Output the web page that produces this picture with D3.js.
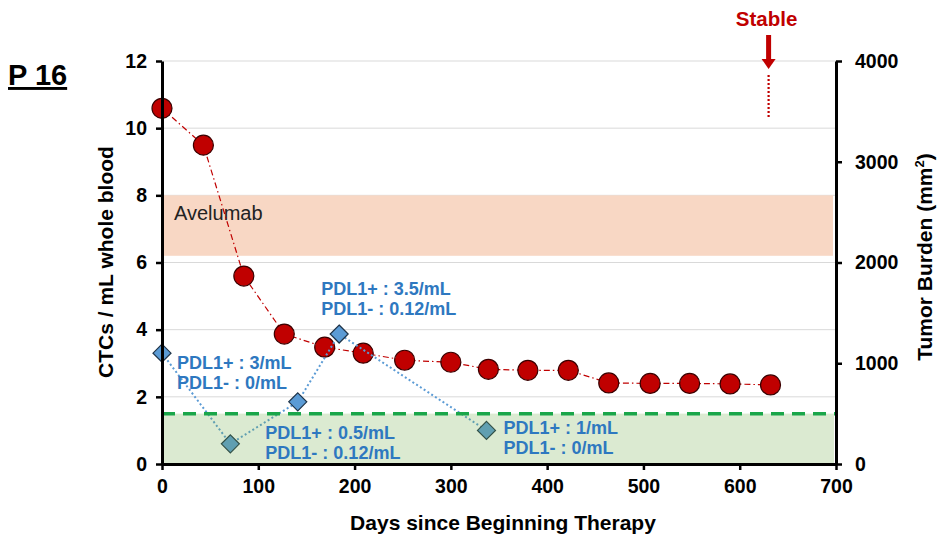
<!DOCTYPE html>
<html>
<head>
<meta charset="utf-8">
<script src="https://cdn.jsdelivr.net/npm/d3@7"></script>
<style>
  html, body { margin: 0; padding: 0; background: #fff; }
  svg { display: block; font-family: "Liberation Sans", Arial, sans-serif; }
</style>
</head>
<body>
<svg id="chart" width="938" height="541"></svg>
<script>
// Patient P 16: tumor burden (right axis) and CTC counts (left axis) over time
const tumorDays   = [0, 43, 85, 127, 169, 209, 252, 300, 339, 380, 422, 464, 507, 548, 590, 632];
const tumorBurden = [3530, 3165, 1865, 1290, 1160, 1100, 1030, 1010, 940, 930, 930, 805, 800, 800, 795, 785];

const ctcDays   = [0, 71, 141, 184, 337];
const ctcValues = [3.3, 0.6, 1.85, 3.87, 1.0];

const ctcLabels = [
  { day: 0,   ctc: 3.3,  lines: ["PDL1+ : 3/mL", "PDL1- : 0/mL"] },
  { day: 71,  ctc: 0.6,  lines: ["PDL1+ : 0.5/mL", "PDL1- : 0.12/mL"] },
  { day: 184, ctc: 3.87, lines: ["PDL1+ : 3.5/mL", "PDL1- : 0.12/mL"] },
  { day: 337, ctc: 1.0,  lines: ["PDL1+ : 1/mL", "PDL1- : 0/mL"] }
];

const xTicks      = [0, 100, 200, 300, 400, 500, 600, 700];
const yLeftTicks  = [0, 2, 4, 6, 8, 10, 12];
const yRightTicks = [0, 1000, 2000, 3000, 4000];

const treatmentBand = { label: "Avelumab", from: 6.2, to: 8.0 };
const thresholdCTC  = 1.5;
const stableDay     = 630;

const svg = d3.select("#chart");

const x  = d3.scaleLinear().domain([0, 700]).range([162, 836]);
const yL = d3.scaleLinear().domain([0, 12]).range([464, 61]);
const yR = d3.scaleLinear().domain([0, 4000]).range([464, 61]);

// gridlines
svg.append("g")
  .selectAll("line").data(yLeftTicks.filter(d => d > 0)).join("line")
  .attr("x1", x(0)).attr("x2", x(700))
  .attr("y1", d => yL(d)).attr("y2", d => yL(d))
  .attr("stroke", "#d9d9d9").attr("stroke-width", 1);

// treatment band
svg.append("rect")
  .attr("x", x(0)).attr("width", x(700) - x(0) - 3)
  .attr("y", yL(treatmentBand.to)).attr("height", yL(treatmentBand.from) - yL(treatmentBand.to))
  .attr("fill", "#f8d7c4");
svg.append("text")
  .attr("x", x(0) + 12).attr("y", yL(treatmentBand.to) + 25)
  .attr("font-size", 20).attr("fill", "#222")
  .text(treatmentBand.label);

// tumor burden series
svg.append("path")
  .datum(tumorDays.map((d, i) => [d, tumorBurden[i]]))
  .attr("fill", "none").attr("stroke", "#c00000").attr("stroke-width", 1.2)
  .attr("stroke-dasharray", "6,3,1.5,3")
  .attr("d", d3.line().x(d => x(d[0])).y(d => yR(d[1])));

svg.append("g")
  .selectAll("circle").data(tumorDays.map((d, i) => [d, tumorBurden[i]])).join("circle")
  .attr("cx", d => x(d[0])).attr("cy", d => yR(d[1])).attr("r", 10)
  .attr("fill", "#c00000").attr("stroke", "#3a0000").attr("stroke-width", 1.2);

// CTC series
const ctcPts = ctcDays.map((d, i) => [d, ctcValues[i]]);
svg.append("path")
  .datum(ctcPts)
  .attr("fill", "none").attr("stroke", "#5b9bd5").attr("stroke-width", 2)
  .attr("stroke-dasharray", "2,2.5")
  .attr("d", d3.line().x(d => x(d[0])).y(d => yL(d[1])));

svg.append("g")
  .selectAll("path").data(ctcPts).join("path")
  .attr("transform", d => `translate(${x(d[0])},${yL(d[1])})`)
  .attr("d", "M0,-9L9,0L0,9L-9,0Z")
  .attr("fill", "#5b9bd5").attr("stroke", "#1e3348").attr("stroke-width", 1.2);

// threshold zone
svg.append("rect")
  .attr("x", x(0)).attr("width", x(700) - x(0) - 2)
  .attr("y", yL(thresholdCTC)).attr("height", yL(0) - yL(thresholdCTC))
  .attr("fill", "rgb(112,173,71)").attr("fill-opacity", 0.25);
svg.append("line")
  .attr("x1", x(0)).attr("x2", x(700))
  .attr("y1", yL(thresholdCTC)).attr("y2", yL(thresholdCTC))
  .attr("stroke", "#1aa64a").attr("stroke-width", 3.5)
  .attr("stroke-dasharray", "13,8");

// CTC annotations
const labelOffsets = [[15, 16], [35, -5], [-18, -39], [17, 4]];
ctcLabels.forEach((lab, i) => {
  const t = svg.append("text")
    .attr("font-size", 18).attr("font-weight", "bold").attr("fill", "#2e78c0");
  lab.lines.forEach((ln, j) => {
    t.append("tspan")
      .attr("x", x(lab.day) + labelOffsets[i][0])
      .attr("y", yL(lab.ctc) + labelOffsets[i][1] + j * 20)
      .text(ln);
  });
});

// axes
const axisFont = g => g.selectAll("text")
  .attr("font-size", 19.5).attr("font-weight", "bold").attr("fill", "#000")
  .attr("font-family", "'Liberation Sans', Arial, sans-serif");

const xAxis = svg.append("g").attr("transform", `translate(0,${yL(0)})`)
  .call(d3.axisBottom(x).tickValues(xTicks).tickSize(6).tickPadding(6).tickSizeOuter(0));
const yAxisL = svg.append("g").attr("transform", `translate(${x(0)},0)`)
  .call(d3.axisLeft(yL).tickValues(yLeftTicks).tickSize(6).tickPadding(9).tickSizeOuter(0));
const yAxisR = svg.append("g").attr("transform", `translate(${x(700)},0)`)
  .call(d3.axisRight(yR).tickValues(yRightTicks).tickFormat(d3.format("d"))
    .tickSize(6).tickPadding(13).tickSizeOuter(0));

[xAxis, yAxisL, yAxisR].forEach(g => {
  g.select(".domain").attr("stroke", "#000").attr("stroke-width", 3);
  g.selectAll(".tick line").attr("stroke", "#000").attr("stroke-width", 2.5);
  axisFont(g);
});
xAxis.selectAll("text").attr("dy", "0.85em");

// axis titles
svg.append("text")
  .attr("x", (x(0) + x(700)) / 2 + 4).attr("y", 530)
  .attr("text-anchor", "middle").attr("font-size", 21).attr("font-weight", "bold")
  .text("Days since Beginning Therapy");

svg.append("text")
  .attr("transform", `translate(113,262) rotate(-90)`)
  .attr("text-anchor", "middle").attr("font-size", 21).attr("font-weight", "bold")
  .text("CTCs / mL whole blood");

const rTitle = svg.append("text")
  .attr("transform", `translate(932,257) rotate(-90)`)
  .attr("text-anchor", "middle").attr("font-size", 21).attr("font-weight", "bold");
rTitle.append("tspan").text("Tumor Burden (mm");
rTitle.append("tspan").attr("font-size", 13).attr("dy", -8).text("2");
rTitle.append("tspan").attr("dy", 8).text(")");

// patient label
svg.append("text")
  .attr("x", 8).attr("y", 85)
  .attr("font-size", 29).attr("font-weight", "bold")
  .attr("text-decoration", "underline")
  .text("P 16");

// stable marker
const sx = x(stableDay);
svg.append("text")
  .attr("x", sx - 2).attr("y", 26)
  .attr("text-anchor", "middle").attr("font-size", 20.5).attr("font-weight", "bold")
  .attr("fill", "#c00000")
  .text("Stable");
svg.append("rect").attr("x", sx - 2.5).attr("y", 35).attr("width", 5).attr("height", 26).attr("fill", "#c00000");
svg.append("path").attr("d", `M${sx - 7},59L${sx + 7},59L${sx},69Z`).attr("fill", "#c00000");
svg.append("line")
  .attr("x1", sx).attr("x2", sx).attr("y1", 75).attr("y2", 118)
  .attr("stroke", "#c00000").attr("stroke-width", 2.2).attr("stroke-dasharray", "2,2");
</script>
</body>
</html>
